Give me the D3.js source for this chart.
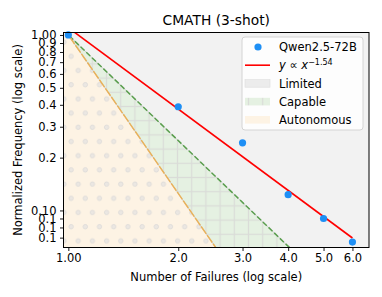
<!DOCTYPE html>
<html><head><meta charset="utf-8">
<script src="https://cdn.jsdelivr.net/npm/d3@7"></script>
<style>body{margin:0;background:#fff}svg{display:block;font-family:"DejaVu Sans",sans-serif}</style>
</head><body>
<svg id="c" width="382" height="297"></svg>
<script>
// ---- data ----
const failures = [1, 2, 3, 4, 5, 6];
const frequency = [1.0, 0.39, 0.243, 0.123, 0.090, 0.066];
const fitExponent = 1.54;
const fitCoef = 1.1;
const capableExponent = 2;     // boundary Limited / Capable
const autonomousExponent = 3;  // boundary Capable / Autonomous
const xTickValues = [1, 2, 3, 4, 5, 6];
const xTickLabels = ["1.00", "2.0", "3.0", "4.0", "5.0", "6.0"];
const yTickValues = [1, 0.9, 0.8, 0.7, 0.6, 0.5, 0.4, 0.3, 0.2, 0.1, 0.09, 0.08, 0.07];
const yTickLabels = ["1.00", "0.9", "0.8", "0.7", "0.6", "0.5", "0.4", "0.3", "0.2", "0.10", "0.1", "0.1", "0.1"];
const legendLabels = ["Qwen2.5-72B", "fit", "Limited", "Capable", "Autonomous"];

// ---- layout ----
const L = 63.5, T = 32.5, R = 369, B = 247.5;
const svg = d3.select("#c");
const x = d3.scaleLog().domain([0.970, 6.66]).range([L, R]);
const y = d3.scaleLog().domain([0.0615, 1.033]).range([B, T]);
const [x0, x1] = x.domain();

const defs = svg.append("defs");
defs.append("clipPath").attr("id", "clip").append("rect")
  .attr("x", L).attr("y", T).attr("width", R - L).attr("height", B - T);
const grid = defs.append("pattern").attr("id", "grid").attr("patternUnits", "userSpaceOnUse")
  .attr("width", 14.2).attr("height", 14.2);
grid.append("rect").attr("width", 14.2).attr("height", 14.2).attr("fill", "#e5f1e2");
grid.append("line").attr("x1", 7.1).attr("x2", 7.1).attr("y1", 0).attr("y2", 14.2).attr("stroke", "#dadcd8").attr("stroke-width", 1.2);
grid.append("line").attr("y1", 7.1).attr("y2", 7.1).attr("x1", 0).attr("x2", 14.2).attr("stroke", "#dadcd8").attr("stroke-width", 1.2);
const dots = defs.append("pattern").attr("id", "dots").attr("patternUnits", "userSpaceOnUse")
  .attr("width", 14.2).attr("height", 28.4).attr("patternTransform", "translate(60.45,148.6)");
dots.append("rect").attr("width", 14.2).attr("height", 28.4).attr("fill", "#fdf3e4");
[[3.55, 7.1], [10.65, 21.3]].forEach(p => dots.append("circle").attr("cx", p[0]).attr("cy", p[1]).attr("r", 2.2)
  .attr("fill", "#ebe7e2").attr("stroke", "#dddbd8").attr("stroke-width", 0.9));

const g = svg.append("g").attr("clip-path", "url(#clip)");
const pw = k => (xx => Math.pow(xx, -k));
const xs = [x0, x1];
// Limited background
g.append("rect").attr("x", L).attr("y", T).attr("width", R - L).attr("height", B - T).attr("fill", "#f2f2f2");
const area = (upper, lower) => {
  const pts = xs.map(v => [x(v), y(Math.max(Math.min(upper(v), 100), 1e-4))])
    .concat(xs.slice().reverse().map(v => [x(v), y(Math.max(Math.min(lower(v), 100), 1e-4))]));
  return d3.line()(pts) + "Z";
};
g.append("path").attr("d", area(pw(capableExponent), pw(autonomousExponent))).attr("fill", "url(#grid)");
g.append("path").attr("d", area(pw(autonomousExponent), () => 1e-4)).attr("fill", "url(#dots)");
// boundary lines
const bline = k => d3.line()(xs.map(v => [x(v), y(Math.pow(v, -k))]));
[[capableExponent, "#5a9e4e"], [autonomousExponent, "#e9b15a"]].forEach(([k, c]) => {
  g.append("path").attr("d", bline(k)).attr("stroke", "#c8c8c8").attr("stroke-width", 1).attr("fill", "none");
  g.append("path").attr("d", bline(k)).attr("stroke", c).attr("stroke-width", 1.5).attr("fill", "none")
    .attr("stroke-dasharray", k === capableExponent ? "5.5,2.4" : "9,1.5");
});
// fit line
const fitLine = d3.line().x(v => x(v)).y(v => y(fitCoef * Math.pow(v, -fitExponent)));
g.append("path").attr("d", fitLine([1, 6])).attr("stroke", "#ff0000").attr("stroke-width", 1.6).attr("fill", "none");
// points
svg.append("g").selectAll("circle").data(failures).join("circle")
  .attr("cx", d => x(d)).attr("cy", (d, i) => y(frequency[i])).attr("r", 3.6).attr("fill", "#1e8ff5");

// frame
svg.append("rect").attr("x", L).attr("y", T).attr("width", R - L).attr("height", B - T)
  .attr("fill", "none").attr("stroke", "#000").attr("stroke-width", 1);

// axes
const fs = 11.5;
const xa = svg.append("g").attr("transform", `translate(0,${B})`)
  .call(d3.axisBottom(x).tickValues(xTickValues).tickFormat((d, i) => xTickLabels[i]).tickSize(3.5).tickPadding(3));
const ya = svg.append("g").attr("transform", `translate(${L},0)`)
  .call(d3.axisLeft(y).tickValues(yTickValues).tickFormat((d, i) => yTickLabels[i]).tickSize(3.5).tickPadding(3.5));
[xa, ya].forEach(a => {
  a.select(".domain").remove();
  a.selectAll("line").attr("stroke", "#000").attr("stroke-width", 0.9);
  a.selectAll("text").attr("font-size", fs).attr("fill", "#000").attr("font-family", "DejaVu Sans");
});

svg.append("text").attr("x", (L + R) / 2).attr("y", 25).attr("text-anchor", "middle")
  .attr("font-size", 13.8).text("CMATH (3-shot)");
svg.append("text").attr("x", (L + R) / 2).attr("y", 281).attr("text-anchor", "middle")
  .attr("font-size", fs).text("Number of Failures (log scale)");
svg.append("text").attr("transform", `translate(22,${(T + B) / 2}) rotate(-90)`).attr("text-anchor", "middle")
  .attr("font-size", fs).text("Normalized Frequency (log scale)");

// legend
const lg = svg.append("g");
lg.append("rect").attr("x", 242).attr("y", 37).attr("width", 121).attr("height", 93).attr("rx", 3)
  .attr("fill", "#fff").attr("fill-opacity", 0.85).attr("stroke", "#d4d4d4").attr("stroke-width", 1);
const rows = [47, 65.2, 83.4, 101.6, 119.8];
lg.append("circle").attr("cx", 258).attr("cy", rows[0]).attr("r", 3.6).attr("fill", "#1e8ff5");
lg.append("line").attr("x1", 245).attr("x2", 270).attr("y1", rows[1]).attr("y2", rows[1]).attr("stroke", "#ff0000").attr("stroke-width", 1.6);
lg.append("rect").attr("x", 245).attr("y", rows[2] - 3.8).attr("width", 25).attr("height", 7.6).attr("fill", "#ececec").attr("stroke", "#dedede").attr("stroke-width", 0.6);
lg.append("rect").attr("x", 245).attr("y", rows[3] - 3.8).attr("width", 25).attr("height", 7.6).attr("fill", "url(#grid)");
lg.append("rect").attr("x", 245).attr("y", rows[4] - 3.8).attr("width", 25).attr("height", 7.6).attr("fill", "#fdf3e4");
rows.forEach((r, i) => {
  const t = lg.append("text").attr("x", 279).attr("y", r).attr("dy", "0.36em").attr("font-size", fs);
  if (legendLabels[i] === "fit") {
    t.append("tspan").attr("font-style", "italic").text("y");
    t.append("tspan").text(" \u221D ");
    t.append("tspan").attr("font-style", "italic").text("x");
    t.append("tspan").attr("font-size", 8).attr("dy", "-0.55em").text("\u22121.54");
  } else t.text(legendLabels[i]);
});
</script>
</body></html>
